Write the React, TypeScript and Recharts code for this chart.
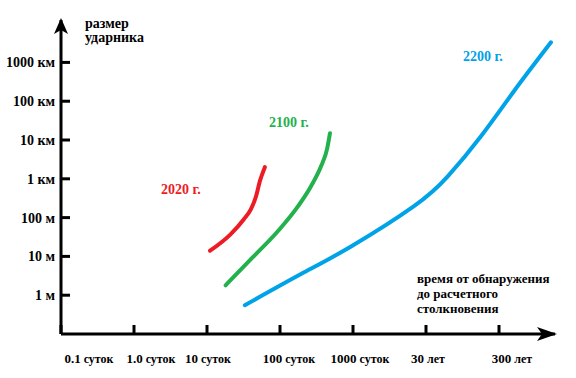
import { LineChart, Line, XAxis, YAxis } from "recharts";

// x: time from detection to impact, in days; y: impactor size, in metres
const X_TICKS = [0.1, 1, 10, 100, 1000, 10000, 100000];
const X_TICK_NUMS = ["0.1", "1.0", "10", "100", "1000", "30", "300"];
const X_TICK_UNITS = ["суток", "суток", "суток", "суток", "суток", "лет", "лет"];
const X_LABEL_NUDGE = [28, 17, 1, 9, 7, 2, 13];

const Y_TICKS = [1, 10, 100, 1000, 10000, 100000, 1000000];
const Y_TICK_LABELS = ["1 м", "10 м", "100 м", "1 км", "10 км", "100 км", "1000 км"];

const DAYS_2020 = [11, 21, 32, 40, 47, 53, 62];
const SIZE_2020 = [14, 37, 91, 165, 356, 870, 2000];

const DAYS_2100 = [18, 40, 94, 177, 266, 365, 441, 484];
const SIZE_2100 = [1.8, 8.5, 45, 197, 645, 2100, 5800, 15000];

const DAYS_2200 = [33, 194, 940, 6850, 20000, 56600, 160000, 515000];
const SIZE_2200 = [0.55, 3.5, 18, 197, 1170, 12500, 181000, 3300000];

const RED = "#ed1c24";
const GREEN = "#22b14c";
const BLUE = "#00a2e8";
const FONT = '"Liberation Serif", "Times New Roman", serif';

const toPoints = (days: number[], size: number[]) =>
  days.map((d, i) => ({ days: d, size: size[i] }));

const series = [
  { name: "2020 г.", color: RED, curve: "monotone", data: toPoints(DAYS_2020, SIZE_2020) },
  { name: "2100 г.", color: GREEN, curve: "monotone", data: toPoints(DAYS_2100, SIZE_2100) },
  { name: "2200 г.", color: BLUE, curve: "natural", data: toPoints(DAYS_2200, SIZE_2200) },
];

function XTick(props: any) {
  const { x, y, payload, index } = props;
  const i = X_TICKS.indexOf(payload.value);
  const k = i >= 0 ? i : index;
  return (
    <g>
      <line x1={x} x2={x} y1={y - 9} y2={y} stroke="#000" strokeWidth={3} />
      <text
        x={x + X_LABEL_NUDGE[k]}
        y={y + 29}
        textAnchor="middle"
        fontFamily={FONT}
        fontWeight="bold"
        fill="#000"
      >
        <tspan fontSize={13}>{X_TICK_NUMS[k]}</tspan>
        <tspan fontSize={12}> {X_TICK_UNITS[k]}</tspan>
      </text>
    </g>
  );
}

function YTick(props: any) {
  const { x, y, payload, index } = props;
  const i = Y_TICKS.indexOf(payload.value);
  const k = i >= 0 ? i : index;
  return (
    <g>
      <line x1={x} x2={x + 9} y1={y} y2={y} stroke="#000" strokeWidth={3} />
      <text
        x={x - 6}
        y={y + 5}
        textAnchor="end"
        fontFamily={FONT}
        fontWeight="bold"
        fontSize={14}
        fill="#000"
      >
        {Y_TICK_LABELS[k]}
      </text>
    </g>
  );
}

const textStyle = { fontFamily: FONT, fontWeight: "bold" as const };

export default function App() {
  return (
    <div style={{ position: "absolute", left: 0, top: 0, width: 576, height: 378, background: "#fff" }}>
      <LineChart
        width={576}
        height={378}
        margin={{ top: 20, right: 21, bottom: 0, left: 0 }}
      >
        <XAxis
          type="number"
          dataKey="days"
          scale="log"
          domain={[0.1, 585000]}
          allowDataOverflow
          ticks={X_TICKS}
          interval={0}
          height={44}
          tickSize={0}
          tickMargin={0}
          tickLine={false}
          axisLine={{ stroke: "#000", strokeWidth: 3 }}
          tick={<XTick />}
        />
        <YAxis
          type="number"
          dataKey="size"
          scale="log"
          domain={[0.1, 12400000]}
          allowDataOverflow
          ticks={Y_TICKS}
          interval={0}
          width={61}
          tickSize={0}
          tickMargin={0}
          tickLine={false}
          axisLine={{ stroke: "#000", strokeWidth: 3 }}
          tick={<YTick />}
        />
        {series.map((s) => (
          <Line
            key={s.name}
            data={s.data}
            dataKey="size"
            name={s.name}
            type={s.curve as any}
            stroke={s.color}
            strokeWidth={4}
            strokeLinecap="round"
            dot={false}
            activeDot={false}
            isAnimationActive={false}
          />
        ))}
      </LineChart>
      <svg
        width={576}
        height={378}
        style={{ position: "absolute", left: 0, top: 0, pointerEvents: "none" }}
      >
        {/* axis arrowheads */}
        <polygon points="61,18 54,34 61,30 68,34" fill="#000" />
        <polygon points="557,334 537,327 542,334 537,341" fill="#000" />
        <text x={85} y={28} fontSize={14} fill="#000" {...textStyle}>размер</text>
        <text x={85} y={42} fontSize={14} fill="#000" {...textStyle}>ударника</text>
        <text x={161} y={194} fontSize={14} fill={RED} {...textStyle}>2020 г.</text>
        <text x={269} y={127} fontSize={14} fill={GREEN} {...textStyle}>2100 г.</text>
        <text x={463} y={61} fontSize={14} fill={BLUE} {...textStyle}>2200 г.</text>
        <text x={417} y={283} fontSize={13} fill="#000" {...textStyle}>время от обнаружения</text>
        <text x={417} y={298} fontSize={13} fill="#000" {...textStyle}>до расчетного</text>
        <text x={417} y={313} fontSize={13} fill="#000" {...textStyle}>столкновения</text>
      </svg>
    </div>
  );
}
